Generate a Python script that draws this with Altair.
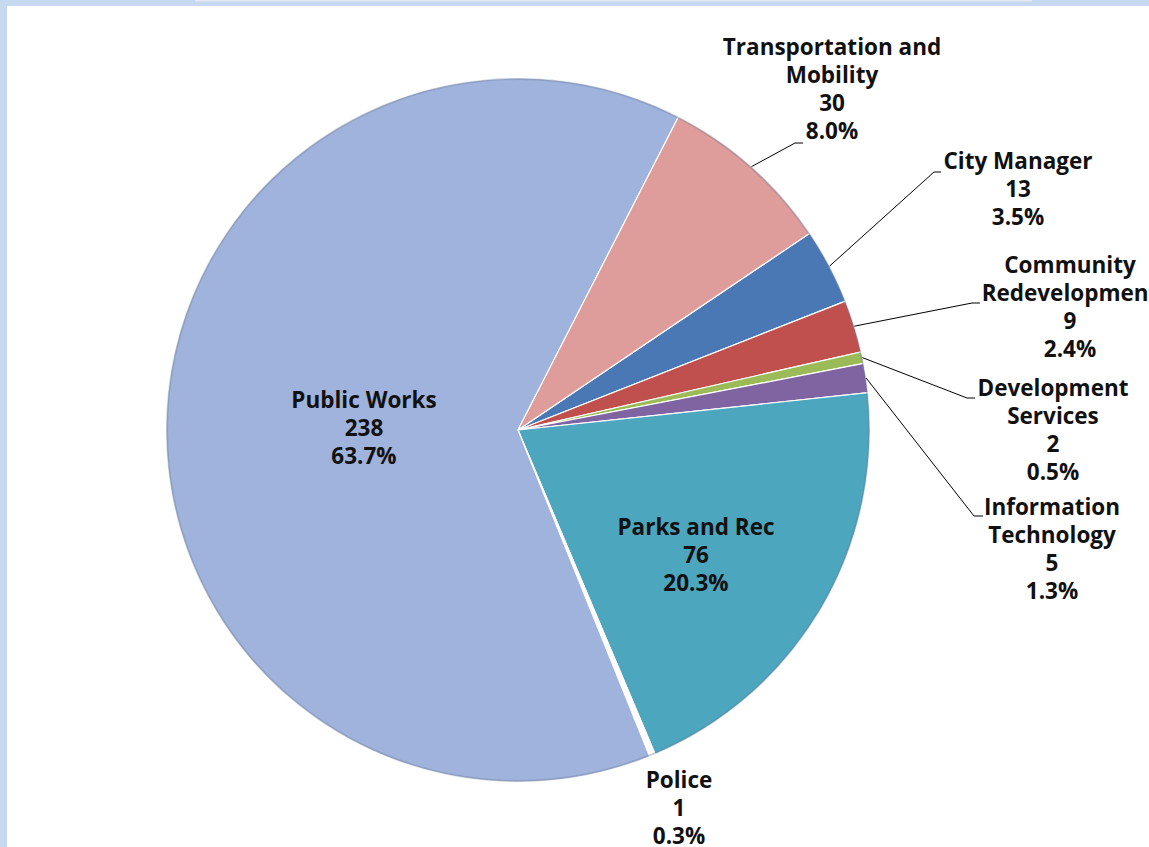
import math
import altair as alt
import pandas as pd

# ---- data ----
categories = ["City Manager", "Community Redevelopment", "Development Services",
              "Information Technology", "Parks and Rec", "Police", "Public Works",
              "Transportation and Mobility"]
values = [13, 9, 2, 5, 76, 1, 238, 30]
pct_labels = ["3.5%", "2.4%", "0.5%", "1.3%", "20.3%", "0.3%", "63.7%", "8.0%"]
label_names = ["City Manager", "Community\nRedevelopment", "Development\nServices",
               "Information\nTechnology", "Parks and Rec", "Police", "Public Works",
               "Transportation and\nMobility"]

# ---- styling / layout ----
colors = ["#4A78B5", "#C0504D", "#9BBB59", "#8064A2", "#4BA6BE", "#FFFFFF",
          "#9FB3DC", "#DE9C9B"]
W, H = 1149, 847
CX, CY, R = 518, 430, 352
START = math.radians(56)
FONT = "Open Sans"
FS = 22.5
LH = 28
# label block: centre x, top y of first line
label_pos = {
    "City Manager": (1018, 151),
    "Community Redevelopment": (1070, 255),
    "Development Services": (1053, 378),
    "Information Technology": (1052, 497),
    "Parks and Rec": (696, 517),
    "Police": (679, 770),
    "Public Works": (364, 390),
    "Transportation and Mobility": (832, 37),
}
# leader lines: elbow and end points
leaders = {
    "Transportation and Mobility": [(795, 143), (803, 143)],
    "City Manager": [(934, 172), (941, 172)],
    "Community Redevelopment": [(972, 303), (980, 303)],
    "Development Services": [(967, 398), (975, 398)],
    "Information Technology": [(974, 516), (983, 516)],
}

df = pd.DataFrame({
    "category": categories,
    "value": values,
    "idx": list(range(len(categories))),
    "label": [f"{n}\n{v}\n{p}" for n, v, p in zip(label_names, values, pct_labels)],
})
df["lx"] = [label_pos[c][0] for c in categories]
df["ly"] = [label_pos[c][1] for c in categories]

# leader line start points from slice mid angles
total = sum(values)
rows = []
cum = 0
for c, v in zip(categories, values):
    mid = START + 2 * math.pi * (cum + v / 2) / total
    cum += v
    if c in leaders:
        pts = [(CX + R * math.sin(mid), CY - R * math.cos(mid))] + leaders[c]
        for k, (px, py) in enumerate(pts):
            rows.append({"category": c, "k": k, "px": px, "py": py})
ldf = pd.DataFrame(rows)

color_scale = alt.Scale(domain=categories, range=colors)

base = alt.Chart(df)

pie = base.mark_arc(radius=R, stroke="#ffffff", strokeWidth=1.2).encode(
    theta=alt.Theta("value:Q", stack=True,
                    scale=alt.Scale(range=[START, START + 2 * math.pi])),
    order=alt.Order("idx:Q"),
    color=alt.Color("category:N", scale=color_scale, legend=None),
    x=alt.value(CX),
    y=alt.value(CY),
)

rim = alt.Chart(pd.DataFrame({"v": [1]})).mark_arc(
    radius=R, radius2=R - 2, fill="#6f7f96", opacity=0.35).encode(
    theta=alt.value(0), theta2=alt.value(2 * math.pi),
    x=alt.value(CX), y=alt.value(CY))

lines = alt.Chart(ldf).mark_line(color="#000000", strokeWidth=1).encode(
    x=alt.X("px:Q", scale=None),
    y=alt.Y("py:Q", scale=None),
    detail="category:N",
    order="k:Q",
)

labels = base.mark_text(font=FONT, fontSize=FS, fontWeight="bold", color="#111111",
                        align="center", baseline="top", lineBreak="\n",
                        lineHeight=LH).encode(
    x=alt.X("lx:Q", scale=None),
    y=alt.Y("ly:Q", scale=None),
    text="label:N",
)

frame_df = pd.DataFrame({"part": ["left", "top", "topbar"]})
left = alt.Chart(frame_df).transform_filter("datum.part=='left'").mark_rect(color="#C6D9F1").encode(
    x=alt.value(0), x2=alt.value(7), y=alt.value(0), y2=alt.value(H))
top = alt.Chart(frame_df).transform_filter("datum.part=='top'").mark_rect(color="#C6D9F1").encode(
    x=alt.value(0), x2=alt.value(W), y=alt.value(0), y2=alt.value(6))
topbar = alt.Chart(frame_df).transform_filter("datum.part=='topbar'").mark_rect(color="#E4E9F0").encode(
    x=alt.value(195), x2=alt.value(1032), y=alt.value(0), y2=alt.value(1.5))

chart = alt.layer(left, top, topbar, pie, rim, lines, labels).properties(
    width=W, height=H, padding=0,
    autosize=alt.AutoSizeParams(type="none"),
    background="#ffffff",
).configure_view(stroke=None)

chart.save("out.html", embed_options={"renderer": "svg", "actions": False})
